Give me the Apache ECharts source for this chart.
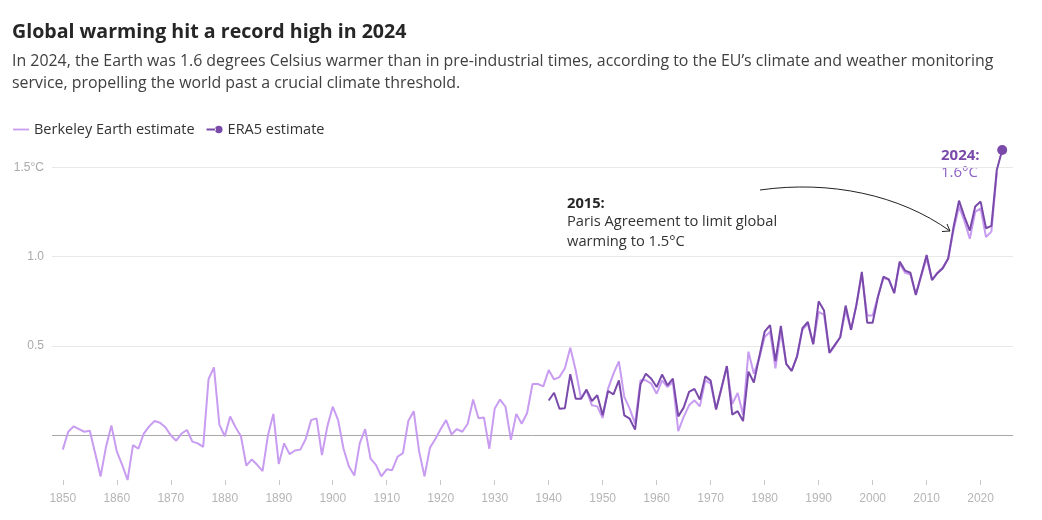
<!DOCTYPE html>
<html>
<head>
<meta charset="utf-8">
<script src="https://cdn.jsdelivr.net/npm/echarts@6/dist/echarts.min.js"></script>
<style>
  html, body { margin: 0; padding: 0; background: #fff; }
  #chart { width: 1042px; height: 520px; }
</style>
</head>
<body>
<div id="chart"></div>
<script>
// ---- Data ----
const berkeleyStart = 1850;
const berkeleyValues = [
  -0.08, 0.02, 0.05, 0.035, 0.02, 0.025, -0.10, -0.23, -0.065, 0.055,
  -0.09, -0.165, -0.25, -0.055, -0.075, 0.01, 0.05, 0.08, 0.07, 0.045,
  0.0, -0.03, 0.01, 0.03, -0.035, -0.045, -0.065, 0.315, 0.38, 0.06,
  -0.005, 0.105, 0.045, -0.005, -0.17, -0.135, -0.165, -0.20, 0.0, 0.12,
  -0.16, -0.045, -0.105, -0.085, -0.08, -0.02, 0.085, 0.095, -0.11, 0.05,
  0.16, 0.085, -0.075, -0.175, -0.225, -0.045, 0.035, -0.13, -0.165, -0.23,
  -0.19, -0.195, -0.12, -0.10, 0.08, 0.135, -0.09, -0.23, -0.07, -0.02,
  0.035, 0.085, 0.005, 0.035, 0.02, 0.065, 0.20, 0.095, 0.10, -0.075,
  0.15, 0.20, 0.16, -0.025, 0.12, 0.065, 0.125, 0.287, 0.287, 0.274,
  0.365, 0.313, 0.326, 0.375, 0.49, 0.364, 0.205, 0.252, 0.168, 0.162,
  0.097, 0.261, 0.345, 0.414, 0.215, 0.149, 0.065, 0.308, 0.308, 0.289,
  0.233, 0.308, 0.27, 0.298, 0.024, 0.103, 0.168, 0.196, 0.162, 0.308,
  0.289, 0.145, 0.26, 0.385, 0.175, 0.237, 0.115, 0.468, 0.345, 0.43,
  0.55, 0.58, 0.375, 0.58, 0.40, 0.36, 0.44, 0.59, 0.625, 0.51,
  0.69, 0.675, 0.46, 0.50, 0.55, 0.70, 0.59, 0.73, 0.90, 0.67,
  0.67, 0.78, 0.88, 0.87, 0.80, 0.96, 0.91, 0.90, 0.79, 0.89,
  0.99, 0.87, 0.91, 0.94, 0.99, 1.15, 1.28, 1.20, 1.10, 1.25,
  1.27, 1.11, 1.14, 1.47
];
const era5Start = 1940;
const era5Values = [
  0.195, 0.238, 0.149, 0.152, 0.342, 0.205, 0.205, 0.256, 0.192, 0.224,
  0.112, 0.248, 0.229, 0.308, 0.112, 0.093, 0.032, 0.285, 0.345, 0.317,
  0.27, 0.34, 0.28, 0.317, 0.106, 0.155, 0.243, 0.26, 0.20, 0.33,
  0.306, 0.145, 0.265, 0.388, 0.116, 0.135, 0.08, 0.356, 0.296, 0.44,
  0.58, 0.617, 0.415, 0.612, 0.40, 0.361, 0.442, 0.60, 0.634, 0.51,
  0.75, 0.698, 0.463, 0.506, 0.549, 0.726, 0.59, 0.73, 0.915, 0.63,
  0.63, 0.776, 0.888, 0.873, 0.795, 0.972, 0.922, 0.91, 0.785, 0.897,
  1.009, 0.869, 0.907, 0.935, 0.99, 1.168, 1.313, 1.224, 1.146, 1.28,
  1.308, 1.159, 1.172, 1.485, 1.597
];
const xTickYears = [1850, 1860, 1870, 1880, 1890, 1900, 1910, 1920, 1930, 1940, 1950, 1960, 1970, 1980, 1990, 2000, 2010, 2020];
const yTickLabels = { '0.5': '0.5', '1': '1.0', '1.5': '1.5°C' };

const seriesNames = ['Berkeley Earth estimate', 'ERA5 estimate'];
const titleText = 'Global warming hit a record high in 2024';
const subtitleLines = [
  'In 2024, the Earth was 1.6 degrees Celsius warmer than in pre-industrial times, according to the EU\u2019s climate and weather monitoring',
  'service, propelling the world past a crucial climate threshold.'
];

// ---- Build ----
const berkeleyData = berkeleyValues.map((v, i) => [berkeleyStart + i, v]);
const era5Data = era5Values.map((v, i) => [era5Start + i, v]);

const LIGHT = '#c89cf0';
const DARK = '#7a4aab';
const FONT = '"Open Sans", "Liberation Sans", Arial, sans-serif';
const AXFONT = '"Liberation Sans", Arial, sans-serif';

function txt(x, y, text, font, fill) {
  return { type: 'text', x: x, y: y, style: { text: text, font: font, fill: fill, verticalAlign: 'middle', align: 'left' } };
}

const chart = echarts.init(document.getElementById('chart'), null, { renderer: 'canvas' });
chart.setOption({
  animation: false,
  backgroundColor: '#ffffff',
  textStyle: { fontFamily: FONT },
  grid: { left: 52, right: 29, top: 149.4, bottom: 40, containLabel: false },
  legend: {
    left: 8, top: 117,
    itemWidth: 16, itemHeight: 10, itemGap: 12,
    textStyle: { fontSize: 14.5, color: '#333', fontFamily: FONT },
    data: [
      { name: seriesNames[0], icon: 'path://M0,4L18,4L18,6L0,6Z' },
      { name: seriesNames[1], icon: 'path://M0,4L10,4L10,6L0,6Z M9,5A4,4 0 1,0 17,5A4,4 0 1,0 9,5Z' }
    ]
  },
  xAxis: {
    type: 'value', min: 1848, max: 2026,
    axisLine: { show: false, onZero: false },
    splitLine: { show: false },
    axisTick: { show: true, length: 5, customValues: xTickYears, lineStyle: { color: '#c8c8c8' } },
    axisLabel: {
      customValues: xTickYears, color: '#b5b5b5', fontSize: 12, margin: 13, fontFamily: AXFONT,
      formatter: function (v) { return String(v); }
    }
  },
  yAxis: {
    type: 'value', min: -0.25, max: 1.6, interval: 0.25,
    axisLine: { show: false },
    axisTick: { show: false },
    axisLabel: {
      color: '#aaaaaa', fontSize: 12, margin: 8, fontFamily: AXFONT,
      formatter: function (v) {
        const k = String(Math.round(v * 100) / 100);
        return yTickLabels[k] || '';
      }
    },
    splitLine: {
      show: true,
      lineStyle: {
        width: 1,
        color: ['rgba(0,0,0,0)', '#a8a8a8', 'rgba(0,0,0,0)', '#e8e8e8', 'rgba(0,0,0,0)', '#e8e8e8', 'rgba(0,0,0,0)', '#e8e8e8', 'rgba(0,0,0,0)']
      }
    }
  },
  series: [
    {
      name: seriesNames[0], type: 'line', data: berkeleyData,
      symbol: 'none', showSymbol: false,
      lineStyle: { color: LIGHT, width: 2 }, itemStyle: { color: LIGHT },
      z: 2
    },
    {
      name: seriesNames[1], type: 'line', data: era5Data,
      symbol: 'circle', symbolSize: 8, showSymbol: false, clip: false,
      lineStyle: { color: DARK, width: 2 }, itemStyle: { color: DARK },
      markPoint: {
        symbol: 'circle', symbolSize: 10, silent: true,
        itemStyle: { color: DARK },
        label: { show: false },
        data: [{ type: 'max' }]
      },
      z: 3
    }
  ],
  graphic: [
    txt(12, 32, titleText, 'bold 19.6px ' + FONT, '#262626'),
    txt(12, 61, subtitleLines[0], '15.9px ' + FONT, '#404040'),
    txt(12, 83, subtitleLines[1], '15.9px ' + FONT, '#404040'),
    txt(567, 204, '2015:', 'bold 14.7px ' + FONT, '#262626'),
    txt(567, 222, 'Paris Agreement to limit global', '14.7px ' + FONT, '#333'),
    txt(567, 242, 'warming to 1.5°C', '14.7px ' + FONT, '#333'),
    txt(941, 156, '2024:', 'bold 15px ' + FONT, DARK),
    txt(941, 173, '1.6°C', '15px ' + FONT, '#8d62c4'),
    {
      type: 'bezierCurve',
      shape: { x1: 760, y1: 190, cpx1: 830, cpy1: 180, cpx2: 900, cpy2: 195, x2: 950, y2: 231 },
      style: { stroke: '#222', lineWidth: 1, fill: 'none' }
    },
    {
      type: 'polyline',
      shape: { points: [[942, 231.5], [950, 231], [947, 224]] },
      style: { stroke: '#222', lineWidth: 1, fill: 'none' }
    }
  ]
});
</script>
</body>
</html>
